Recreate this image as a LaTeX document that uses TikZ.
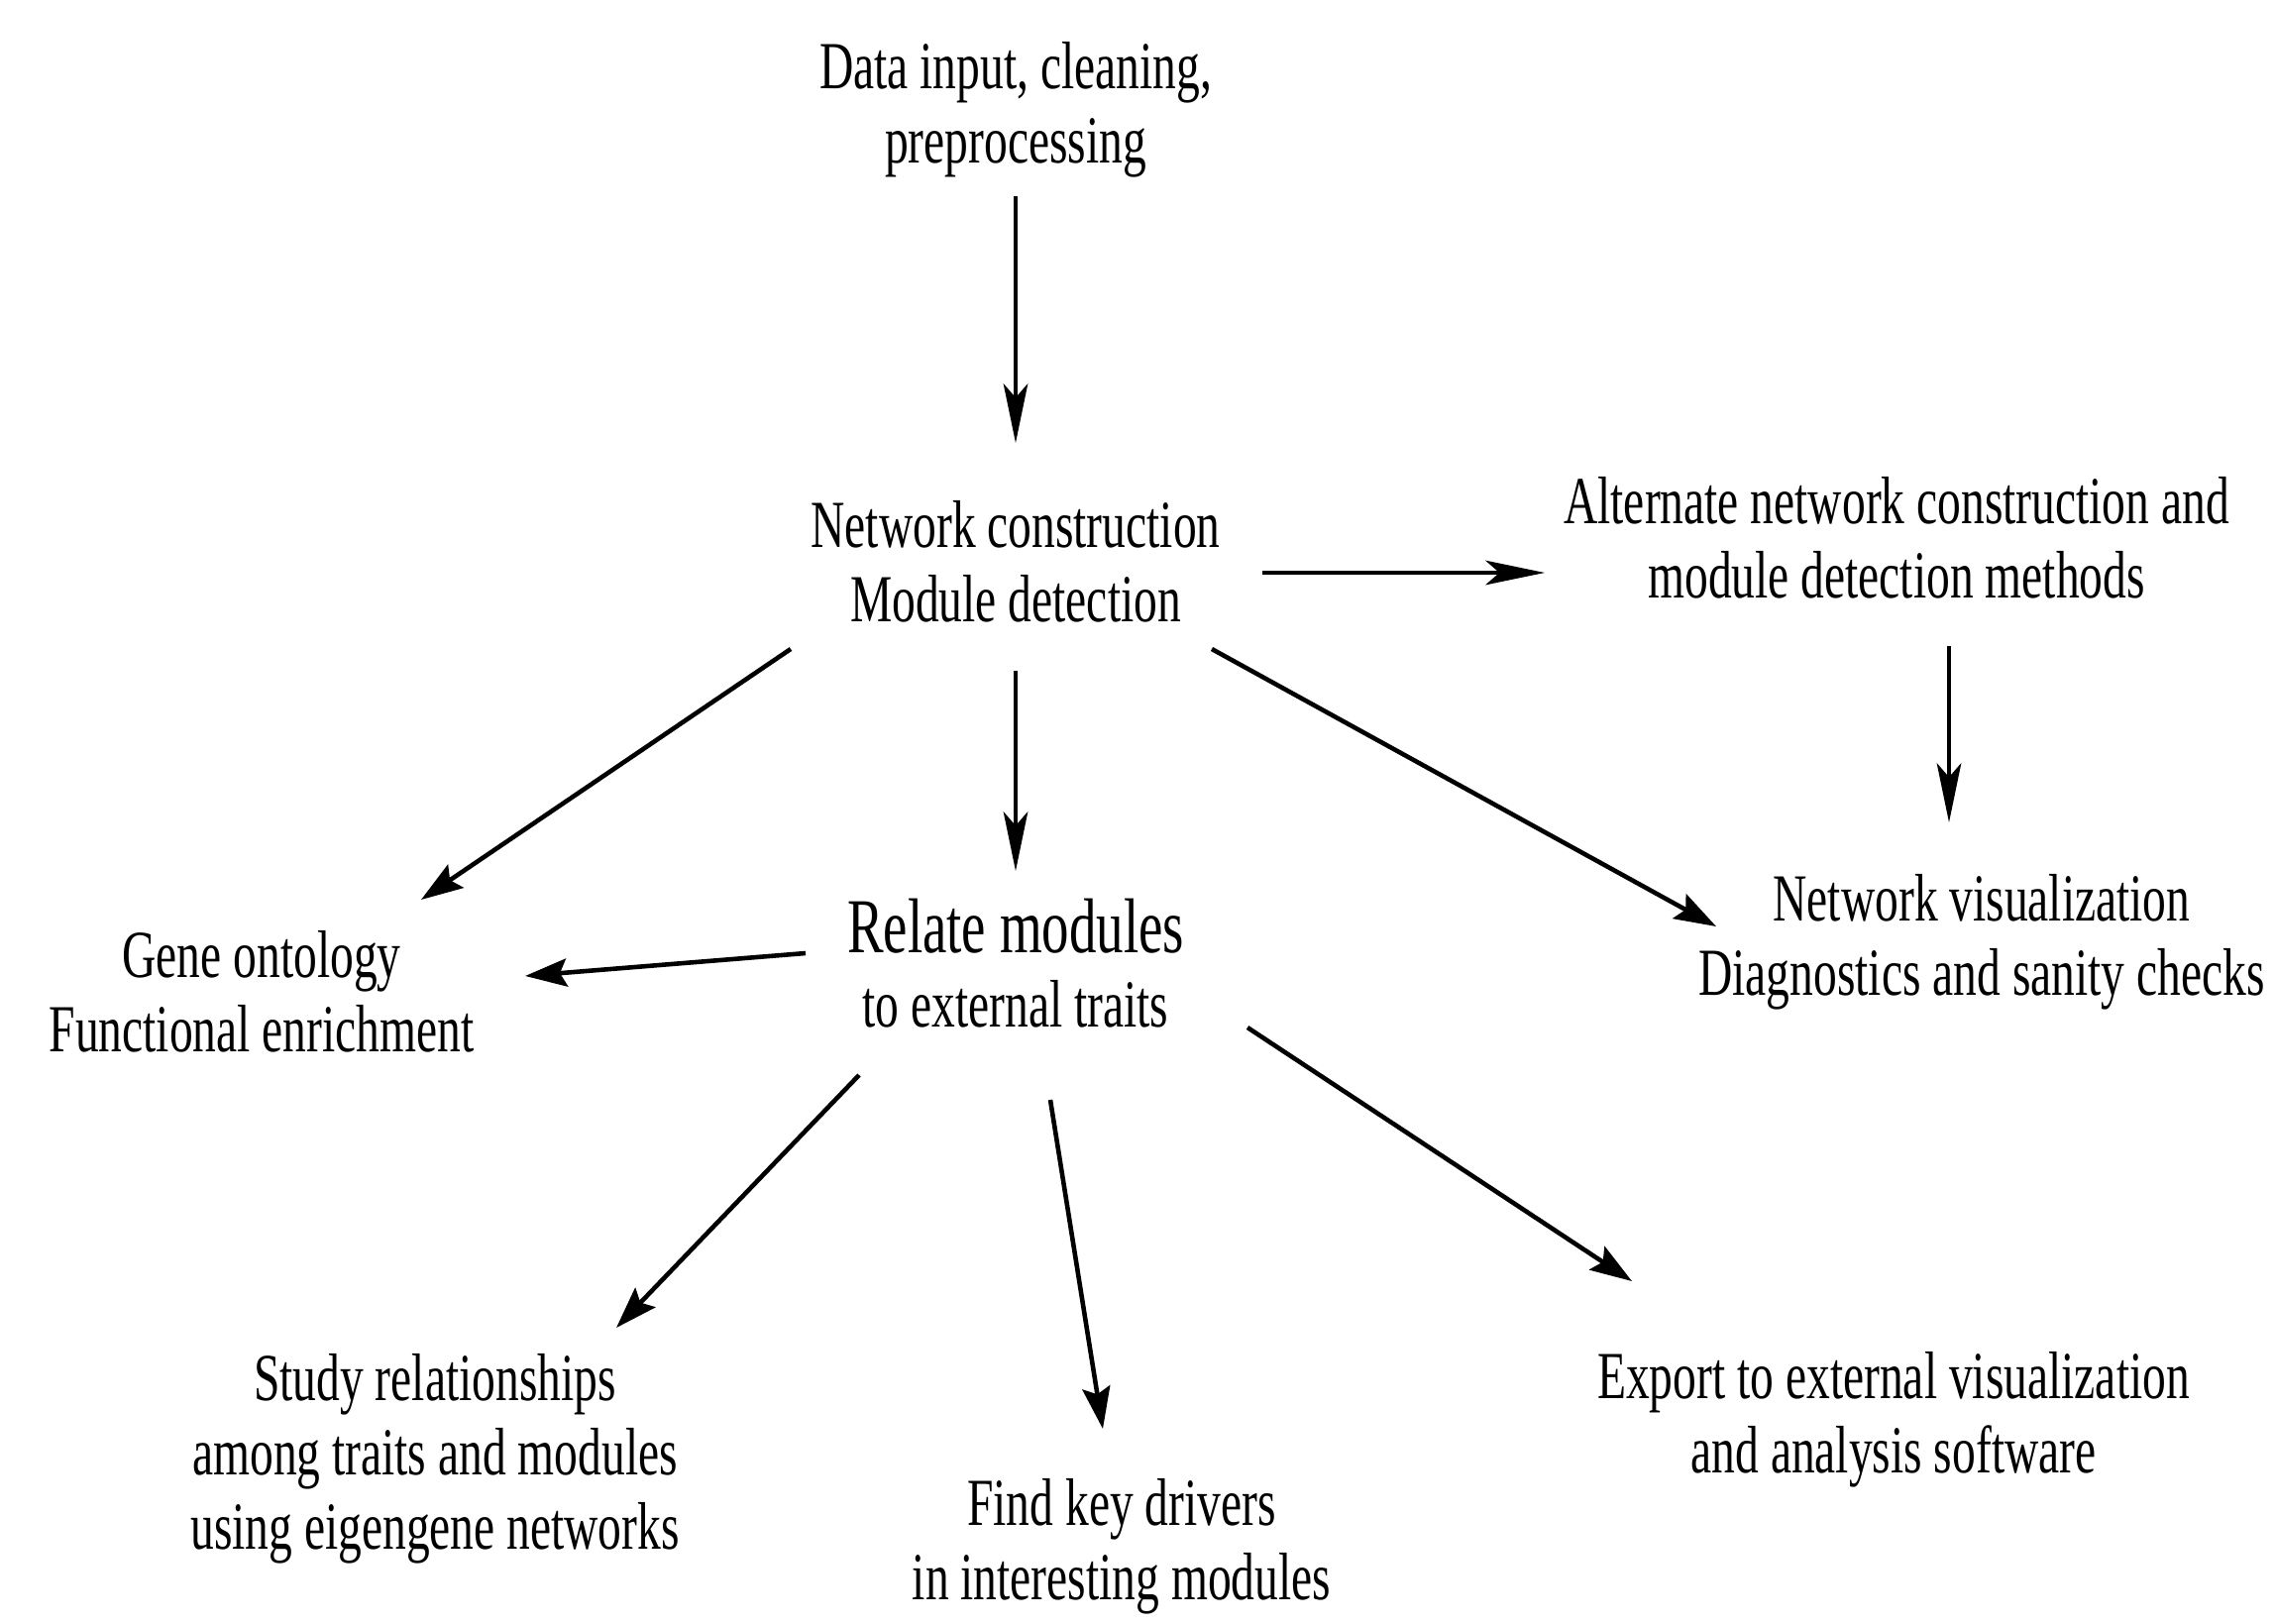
\documentclass[tikz,border=0pt]{standalone}
\usepackage{fontspec}
\newfontfamily\labfont[FakeStretch=0.70]{Liberation Serif}
\usetikzlibrary{arrows.meta,calc}
\tikzset{
  lab/.style={inner sep=0pt, align=center, font=\labfont\fontsize{19.3}{21.3}\selectfont},
  thinarr/.style={line width=1pt, -{Stealth[length=17pt,width=7pt,inset=4pt]}},
  thickarr/.style={line width=1.3pt, -{Stealth[length=12pt,width=8pt,inset=2pt]}}
}
\begin{document}
\begin{tikzpicture}[x=0.01cm,y=-0.01cm]
\useasboundingbox (0,0) rectangle (2296,1639);
\node[lab] (data) at (1025,111) {Data input, cleaning,\\preprocessing};
\node[lab] (net) at (1025,567) {Network construction\\Module detection};
\node[lab] (alt) at (1914,543) {Alternate network construction and\\module detection methods};
\node[lab] (vis) at (2000,951) {Network visualization\\Diagnostics and sanity checks};
\node[lab] (rel) at (1025,972) {{\fontsize{22.3}{23}\selectfont Relate modules}\\to external traits};
\node[lab] (gene) at (264,1001) {Gene ontology\\Functional enrichment};
\node[lab] (study) at (439,1472) {Study relationships\\among traits and modules\\using eigengene networks};
\node[lab] (find) at (1132,1561) {Find key drivers\\in interesting modules};
\node[lab] (export) at (1911,1433) {Export to external visualization\\and analysis software};

\draw[thinarr] ($(data.center)+(0,87)$) -- ($(net.center)+(0,-120)$);
\draw[thinarr] ($(net.center)+(249,11)$) -- ($(alt.center)+(-355,35)$);
\draw[thinarr] ($(alt.center)+(53,109)$) -- ($(vis.center)+(-33,-121)$);
\draw[thinarr] ($(net.center)+(0,110)$) -- ($(rel.center)+(0,-93)$);
\draw[thickarr] ($(net.center)+(-227,88)$) -- ($(gene.center)+(161,-93)$);
\draw[thickarr] ($(net.center)+(198,88)$) -- ($(vis.center)+(-268,-16)$);
\draw[thickarr] ($(rel.center)+(-212,-10)$) -- ($(gene.center)+(266,-16)$);
\draw[thickarr] ($(rel.center)+(-158,113)$) -- ($(study.center)+(183,-132)$);
\draw[thickarr] ($(rel.center)+(35,138)$) -- ($(find.center)+(-19,-119)$);
\draw[thickarr] ($(rel.center)+(234,65)$) -- ($(export.center)+(-264,-140)$);
\end{tikzpicture}
\end{document}
